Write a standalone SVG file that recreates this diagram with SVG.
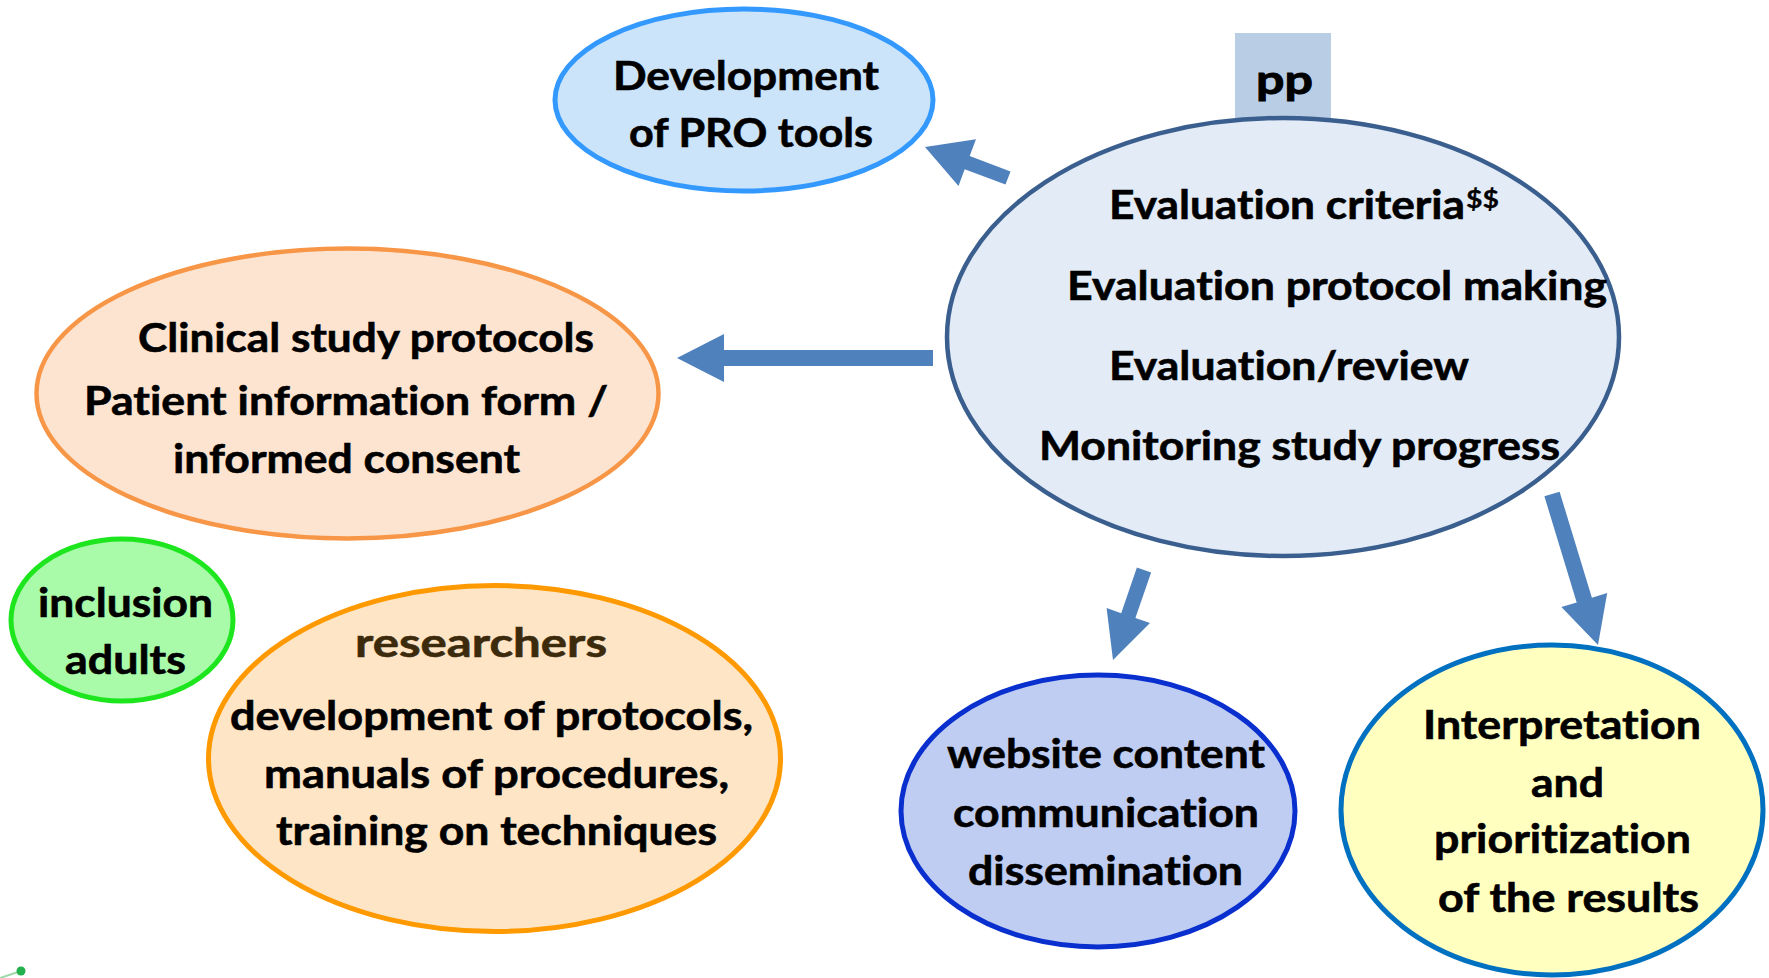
<svg xmlns="http://www.w3.org/2000/svg" width="1769" height="978" viewBox="0 0 1769 978">
  <style>
    .t { font-family: Lato, "Liberation Sans", Arial, sans-serif; font-weight: bold; font-size: 40px; fill: #000; stroke: #000; stroke-width: 0.6px; font-variant-ligatures: none; }
    .sup { font-size: 25px; stroke-width: 0.3px; }
    .arrow { fill: #4f81bd; stroke: none; }
  </style>
  <rect x="0" y="0" width="1769" height="978" fill="#ffffff"/>

  <!-- pp tab behind the central ellipse -->
  <g id="pp-tab">
    <rect x="1235" y="33" width="96" height="86" fill="#b9cde5"/>
    <text class="t" x="1256" y="94" font-size="62" textLength="57" lengthAdjust="spacingAndGlyphs" style="stroke-width:0.9px">pp</text>
  </g>

  <g id="node-pro-tools">
    <ellipse cx="744" cy="100" rx="189" ry="91" fill="#cce4fa" stroke="#3399ff" stroke-width="5"/>
    <text class="t" x="613" y="90" textLength="266" lengthAdjust="spacingAndGlyphs">Development</text>
    <text class="t" x="629" y="147" textLength="244" lengthAdjust="spacingAndGlyphs">of PRO tools</text>
  </g>

  <g id="node-evaluation">
    <ellipse cx="1283" cy="337" rx="336" ry="219" fill="#e3ebf6" stroke="#3a5f8e" stroke-width="4.5"/>
    <text class="t" x="1109" y="219" textLength="356" lengthAdjust="spacingAndGlyphs">Evaluation criteria</text>
    <text class="t sup" x="1466" y="208" textLength="33" lengthAdjust="spacingAndGlyphs">$$</text>
    <text class="t" x="1067" y="300" textLength="540" lengthAdjust="spacingAndGlyphs">Evaluation protocol making</text>
    <text class="t" x="1109" y="380" textLength="360" lengthAdjust="spacingAndGlyphs">Evaluation/review</text>
    <text class="t" x="1039" y="460" textLength="521" lengthAdjust="spacingAndGlyphs">Monitoring study progress</text>
  </g>

  <g id="node-clinical">
    <ellipse cx="347.5" cy="393.5" rx="311" ry="145" fill="#fde4d1" stroke="#f79646" stroke-width="4.5"/>
    <text class="t" x="138" y="352" textLength="456" lengthAdjust="spacingAndGlyphs">Clinical study protocols</text>
    <text class="t" x="84" y="415" textLength="524" lengthAdjust="spacingAndGlyphs">Patient information form /</text>
    <text class="t" x="173" y="473" textLength="347" lengthAdjust="spacingAndGlyphs">informed consent</text>
  </g>

  <g id="node-inclusion">
    <ellipse cx="122" cy="620" rx="111" ry="81" fill="#a9fba9" stroke="#1ee61e" stroke-width="5"/>
    <text class="t" x="38" y="617" textLength="175" lengthAdjust="spacingAndGlyphs">inclusion</text>
    <text class="t" x="65" y="674" textLength="121" lengthAdjust="spacingAndGlyphs">adults</text>
  </g>

  <g id="node-researchers">
    <ellipse cx="494.5" cy="758.5" rx="286" ry="173" fill="#fee5c6" stroke="#ff9900" stroke-width="5"/>
    <text class="t" x="355" y="657" textLength="252" lengthAdjust="spacingAndGlyphs" style="fill:#3c2a0c;stroke:#3c2a0c">researchers</text>
    <text class="t" x="230" y="730" textLength="523" lengthAdjust="spacingAndGlyphs">development of protocols,</text>
    <text class="t" x="264" y="788" textLength="465" lengthAdjust="spacingAndGlyphs">manuals of procedures,</text>
    <text class="t" x="276" y="845" textLength="441" lengthAdjust="spacingAndGlyphs">training on techniques</text>
  </g>

  <g id="node-website">
    <ellipse cx="1098" cy="811" rx="197" ry="136" fill="#bfcdf2" stroke="#0a2fcf" stroke-width="5"/>
    <text class="t" x="947" y="768" textLength="318" lengthAdjust="spacingAndGlyphs">website content</text>
    <text class="t" x="953" y="827" textLength="306" lengthAdjust="spacingAndGlyphs">communication</text>
    <text class="t" x="968" y="885" textLength="275" lengthAdjust="spacingAndGlyphs">dissemination</text>
  </g>

  <g id="node-interpretation">
    <ellipse cx="1552" cy="810" rx="211" ry="165" fill="#ffffc0" stroke="#0070c0" stroke-width="5"/>
    <text class="t" x="1423" y="739" textLength="278" lengthAdjust="spacingAndGlyphs">Interpretation</text>
    <text class="t" x="1531" y="797" textLength="73" lengthAdjust="spacingAndGlyphs">and</text>
    <text class="t" x="1434" y="853" textLength="257" lengthAdjust="spacingAndGlyphs">prioritization</text>
    <text class="t" x="1438" y="912" textLength="261" lengthAdjust="spacingAndGlyphs">of the results</text>
  </g>

  <!-- block arrows leading out of the central ellipse -->
  <g id="connectors">
    <polygon class="arrow" points="1010.5,171.4 969.7,156.1 976,139.3 925,147 958.5,186.1 964.7,169.3 1005.5,184.6"/>
    <polygon class="arrow" points="933,350 724,350 724,334 677,358 724,382 724,366 933,366"/>
    <polygon class="arrow" points="1151.1,572.4 1135.4,618 1150,623.1 1113,660 1106.6,608.1 1121.2,613.2 1136.9,567.6"/>
    <polygon class="arrow" points="1559.6,491.7 1591.9,597.8 1607.2,593.1 1598,645 1561.4,607.1 1576.7,602.4 1544.4,496.3"/>
  </g>

  <!-- small green dot in the lower-left corner -->
  <g id="corner-mark">
    <line x1="0" y1="978" x2="18" y2="972" stroke="#9ed9a8" stroke-width="2"/>
    <circle cx="21" cy="971" r="4.5" fill="#22b14c"/>
  </g>
</svg>
